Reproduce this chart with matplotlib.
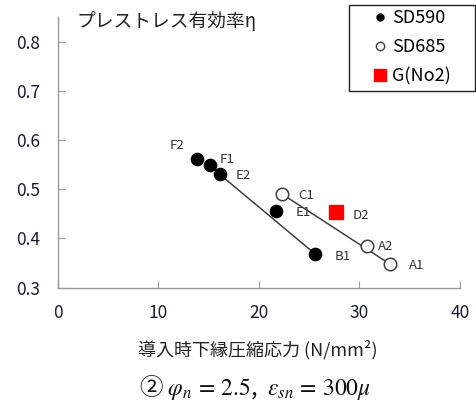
import matplotlib
matplotlib.use("Agg")
import matplotlib.pyplot as plt
from matplotlib.lines import Line2D
from matplotlib.patches import Rectangle

plt.rcParams['font.family'] = ['Noto Sans CJK JP', 'DejaVu Sans']
plt.rcParams['mathtext.fontset'] = 'stix'

# SD590 (filled)
sd590_names = ["F2", "F1", "E2", "E1", "B1"]
sd590_x = [13.8, 15.1, 16.1, 21.7, 25.6]
sd590_y = [0.561, 0.550, 0.530, 0.455, 0.368]
# SD685 (open)
sd685_names = ["C1", "A2", "A1"]
sd685_x = [22.3, 30.7, 33.0]
sd685_y = [0.490, 0.385, 0.348]
# G(No2)
g_names = ["D2"]
g_x = [27.7]
g_y = [0.453]

# label offsets in points (dx, dy)
label_offsets = {
    "F2": (-14.4, 10), "F1": (12.5, 3.8), "E2": (16.8, -0.7), "E1": (19.7, -1.2),
    "B1": (19.7, -2), "C1": (17.6, -0.7), "A2": (13.7, -0.7), "A1": (19.2, -1.4),
    "D2": (17.3, -2.2),
}

fig = plt.figure(figsize=(4.76, 4.01), dpi=100)
ax = fig.add_axes([0.1218, 0.283, 0.8446, 0.6746])

# trend lines
ax.plot([sd590_x[2], sd590_x[4]], [sd590_y[2], sd590_y[4]], color='#404040', lw=1.1, zorder=1)
ax.plot([sd685_x[0], sd685_x[2]], [sd685_y[0], sd685_y[2]], color='#404040', lw=1.1, zorder=1)

ax.plot(sd590_x, sd590_y, 'o', ls='none', color='black', ms=8.8, zorder=3)
ax.plot(sd685_x, sd685_y, 'o', ls='none', mfc='white', mec='#404040', mew=1.1, ms=9, zorder=3)
ax.plot(g_x, g_y, 's', ls='none', color='#ff0000', ms=10, zorder=3)

for names, xs, ys in [(sd590_names, sd590_x, sd590_y), (sd685_names, sd685_x, sd685_y), (g_names, g_x, g_y)]:
    for n, x, y in zip(names, xs, ys):
        dx, dy = label_offsets[n]
        ax.annotate(n, (x, y), xytext=(dx, dy), textcoords='offset points',
                    ha='center', va='center', fontsize=9.5, color='#333333')

ax.set_xlim(0, 40)
ax.set_ylim(0.3, 0.85)
ax.set_xticks([0, 10, 20, 30, 40])
ax.set_yticks([0.3, 0.4, 0.5, 0.6, 0.7, 0.8])
ax.set_yticklabels(["0.3", "0.4", "0.5", "0.6", "0.7", "0.8"])
for s in ['top', 'right']:
    ax.spines[s].set_visible(False)
for s in ['left', 'bottom']:
    ax.spines[s].set_color('#999999')
    ax.spines[s].set_linewidth(1.0)
ax.tick_params(direction='in', length=5, color='#999999', labelsize=12.5, labelcolor='#1a1a2e')
ax.tick_params(axis='x', pad=12)
ax.tick_params(axis='y', pad=13)

ax.text(0.045, 0.985, "プレストレス有効率η", transform=ax.transAxes, fontsize=13.5,
        ha='left', va='center', color='#222222')

fig.text(258/476, 1 - 350/401, "導入時下縁圧縮応力 (N/mm²)", ha='center', va='center', fontsize=13, color='#222222')
fig.text(255/476, 1 - 388/401, "② $\\varphi_n\\,=\\,2.5$,  $\\varepsilon_{sn}\\,=\\,300\\mu$",
         ha='center', va='center', fontsize=17, color='#111111')

# legend frame
fig.patches.append(Rectangle((349/476, 1 - 91/401), 126/476, 86/401, transform=fig.transFigure,
                             fill=False, edgecolor='#222222', lw=1.0, figure=fig))
handles = [
    Line2D([], [], marker='o', ls='none', color='black', ms=5),
    Line2D([], [], marker='o', ls='none', mfc='white', mec='#404040', mew=1, ms=6),
    Line2D([], [], marker='s', ls='none', color='#ff0000', ms=8),
]
leg = fig.legend(handles, ["SD590", "SD685", "G(No2)"], loc='upper left',
                 bbox_to_anchor=(375/476, 1 - 9/401), bbox_transform=fig.transFigure,
                 fontsize=13, frameon=False,
                 handlelength=0.6, handletextpad=0.35, borderpad=0.0, labelspacing=0.62,
                 borderaxespad=0)

fig.savefig("out.png", dpi=100)
